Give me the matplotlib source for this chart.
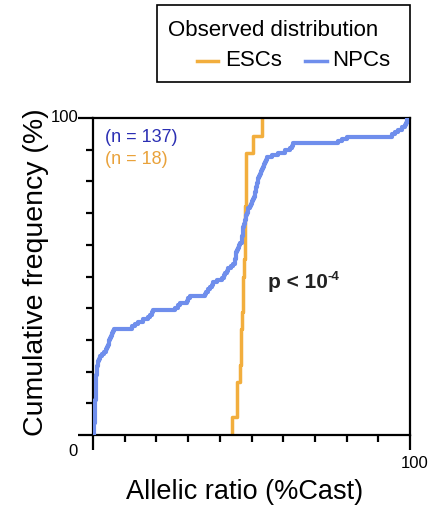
import numpy as np
import matplotlib
matplotlib.use("Agg")
import matplotlib.pyplot as plt
from matplotlib.lines import Line2D
from matplotlib.patches import Rectangle

plt.rcParams['font.family'] = ['Liberation Sans', 'DejaVu Sans']

# ---- data (allelic ratio, %Cast) ----
esc_values = [44.0, 45.3, 45.3, 46.4, 46.6, 46.8, 47.0, 47.2, 47.4, 47.6,
              47.8, 48.0, 48.1, 48.2, 48.3, 48.4, 50.6, 53.2]
npc_values = [0.3, 0.3, 0.4, 0.4, 0.4, 0.5, 0.5, 0.5, 0.5, 0.6, 0.6, 0.6, 0.7, 0.7,
              0.7, 0.8, 0.8, 0.8, 0.9, 0.9, 0.9, 1.0, 1.0, 1.0, 1.1, 1.1, 1.2, 1.2,
              1.3, 1.4, 1.5, 1.7, 1.9, 2.1,
              2.8, 3.5,
              4.0, 4.4, 4.7,
              5.0, 5.2, 5.3,
              5.6, 6.0, 6.3, 6.6,
              12.3, 13.2, 14.2,
              15.8, 17.4,
              18.0, 18.6, 18.9,
              26.0, 26.8, 27.4,
              29.6,
              30.0, 30.5,
              35.3,
              35.8, 36.3, 36.8, 37.4, 37.9,
              39.2, 40.6,
              41.2, 41.7, 42.2, 42.7,
              43.4, 44.1, 44.8,
              44.9, 45.0, 45.1, 45.2, 45.3,
              45.7, 46.1, 46.5, 46.9,
              47.0, 47.1, 47.2, 47.3, 47.35, 47.4,
              47.6, 47.8, 48.0, 48.2, 48.4, 48.6, 48.8, 49.0,
              49.4, 49.8, 50.2, 50.6,
              50.8, 51.0, 51.2, 51.3, 51.5, 51.6, 51.8, 51.9, 52.1,
              52.4, 52.7, 53.0, 53.4, 53.7,
              54.0, 54.3, 54.5, 54.8,
              56.4, 58.5, 60.6, 62.1,
              62.7, 63.2,
              77.4, 78.7, 80.0,
              94.2, 95.3, 96.3,
              97.4, 98.4,
              98.7, 98.9, 99.0]
series_names = ["ESCs", "NPCs"]
esc_color = "#F2AE3D"
npc_color = "#6F8EEC"

W, H = 437, 506
fig = plt.figure(figsize=(W / 100, H / 100), dpi=100)

def fx(px):
    return px / W

def fy(py):
    return 1 - py / H

ax_l, ax_r, ax_t, ax_b = 93, 410, 119, 436
ax = fig.add_axes([fx(ax_l), fy(ax_b), fx(ax_r) - fx(ax_l), fy(ax_t) - fy(ax_b)])

def ecdf_xy(vals):
    v = np.sort(np.asarray(vals, dtype=float))
    n = len(v)
    x = np.concatenate([[v[0]], v])
    y = np.concatenate([[0.0], np.arange(1, n + 1) / n * 100])
    return x, y

xe, ye = ecdf_xy(esc_values)
xn, yn = ecdf_xy(npc_values)
ax.step(xn, yn, where='post', color=npc_color, lw=3.0, zorder=3)
ax.step(xe, ye, where='post', color=esc_color, lw=2.5, zorder=2)

ax.set_xlim(0, 100)
ax.set_ylim(0, 100)
for s in ax.spines.values():
    s.set_linewidth(1.6)
    s.set_color('black')

ax.set_xticks([0, 100])
ax.set_yticks([0, 100])
ax.set_xticks(np.arange(10, 100, 10), minor=True)
ax.set_yticks(np.arange(10, 100, 10), minor=True)
ax.tick_params(which='major', direction='out', length=11, width=1.6,
               labelbottom=False, labelleft=False)
ax.tick_params(which='minor', direction='out', length=5, width=1.6)

# tick labels placed like the reference
fig.text(fx(73), fy(452), "0", ha='center', va='center', fontsize=12)
fig.text(fx(415), fy(463), "100", ha='center', va='center', fontsize=12)
fig.text(fx(65), fy(117), "100", ha='center', va='center', fontsize=12)

fig.text(fx(245), fy(492), "Allelic ratio (%Cast)", ha='center', va='center', fontsize=19.5)
fig.text(fx(36), fy(272), "Cumulative frequency (%)", ha='center', va='center',
         fontsize=20.5, rotation=90)

fig.text(fx(105), fy(138), f"(n = {len(npc_values)})",
         color="#2B2FB3", fontsize=13, va='center', ha='left')
fig.text(fx(105), fy(160), f"(n = {len(esc_values)})",
         color="#E9A23B", fontsize=13, va='center', ha='left')

pt = fig.text(fx(268), fy(283), "p < 10", ha='left', va='center',
              fontsize=15, fontweight='bold', color='#222222')
ax.annotate("-4", xy=(1.0, 0.82), xycoords=pt, ha='left', va='center',
            fontsize=9.5, fontweight='bold', color='#222222', annotation_clip=False)

# legend box
fig.patches.append(Rectangle((fx(157), fy(83)), fx(410) - fx(157), fy(6) - fy(83),
                             transform=fig.transFigure, fill=False,
                             edgecolor='black', lw=1.2))
fig.text(fx(168), fy(31), "Observed distribution", ha='left', va='center', fontsize=16)
fig.lines.append(Line2D([fx(197), fx(218)], [fy(62), fy(62)], transform=fig.transFigure,
                        color=esc_color, lw=2.5))
fig.text(fx(225), fy(61), series_names[0], ha='left', va='center', fontsize=16)
fig.lines.append(Line2D([fx(305), fx(327)], [fy(62), fy(62)], transform=fig.transFigure,
                        color=npc_color, lw=2.5))
fig.text(fx(332), fy(61), series_names[1], ha='left', va='center', fontsize=16)

fig.savefig("out.png", dpi=100)
